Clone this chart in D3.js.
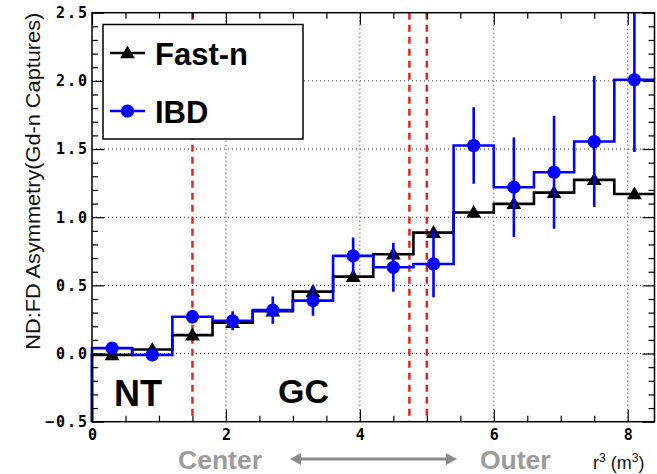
<!DOCTYPE html>
<html><head><meta charset="utf-8">
<script src="https://cdn.jsdelivr.net/npm/d3@7"></script>
<style>
html,body{margin:0;padding:0;background:#fff;}
svg{display:block;}
</style>
</head><body>
<svg id="chart" width="657" height="474"></svg>
<script>
// ---- data ----
const binEdges = [0,0.6,1.2,1.8,2.4,3.0,3.6,4.2,4.8,5.4,6.0,6.6,7.2,7.8,8.4];
const binCenters = [0.3,0.9,1.5,2.1,2.7,3.3,3.9,4.5,5.1,5.7,6.3,6.9,7.5,8.1];
const fastN    = [-0.01,0.03,0.135,0.226,0.31,0.454,0.564,0.728,0.887,1.034,1.098,1.18,1.274,1.17];
const fastNErr = [0.03,0.03,0.03,0.03,0.03,0.03,0.03,0.03,0.03,0.03,0.03,0.03,0.03,0.03];
const ibd      = [0.04,-0.01,0.27,0.24,0.319,0.388,0.716,0.633,0.657,1.526,1.22,1.33,1.555,2.008];
const ibdErr   = [0.03,0.03,0.05,0.07,0.10,0.11,0.135,0.18,0.245,0.28,0.365,0.415,0.48,0.53];
const xMajorTicks = [0,2,4,6,8];
const xTickLabels = ["0","2","4","6","8"];
const yMajorTicks = [-0.5,0,0.5,1.0,1.5,2.0,2.5];
const yTickLabels = ["\u22120.5","0.0","0.5","1.0","1.5","2.0","2.5"];
const xGrid = [2,4,6,8];
const yGrid = [0,0.5,1.0,1.5,2.0];
const regionLines = [1.5,4.74,5.0];
const legendNames = ["Fast-n","IBD"];

// ---- layout ----
const svg = d3.select("#chart");
const L = 92, R = 654.5, T = 12.7, B = 421.7;
const x = d3.scaleLinear().domain([0,8.4]).range([L, R]);
const y = d3.scaleLinear().domain([-0.5,2.5]).range([B, T]);
const BLUE = "#0000ff", RED = "#e8231f", GRAY = "#9c9c9c";

svg.append("defs").append("clipPath").attr("id","plotclip")
  .append("rect").attr("x",L-4).attr("y",T).attr("width",R-L+4).attr("height",B-T);

// grid
const g = svg.append("g");
g.selectAll(".gx").data(xGrid).enter().append("line")
  .attr("x1", d=>x(d)).attr("x2", d=>x(d)).attr("y1", T).attr("y2", B)
  .attr("stroke","#333").attr("stroke-width",1).attr("stroke-dasharray","1,3");
g.selectAll(".gy").data(yGrid).enter().append("line")
  .attr("y1", d=>y(d)).attr("y2", d=>y(d)).attr("x1", L).attr("x2", R)
  .attr("stroke","#333").attr("stroke-width",1).attr("stroke-dasharray","1,3");

// red dashed region lines
g.selectAll(".rl").data(regionLines).enter().append("line")
  .attr("x1", d=>x(d)).attr("x2", d=>x(d)).attr("y1", T).attr("y2", B)
  .attr("stroke",RED).attr("stroke-width",2.5).attr("stroke-dasharray","7,5");

// histogram step paths
function stepPts(vals){
  const pts = [[binEdges[0], -0.5]];
  vals.forEach((v,i)=>pts.push([binEdges[i], v]));
  pts.push([binEdges[binEdges.length-1], vals[vals.length-1]]);
  return pts;
}
const stepLine = d3.line().x(d=>x(d[0])).y(d=>y(d[1])).curve(d3.curveStepAfter);

const dg = svg.append("g").attr("clip-path","url(#plotclip)");
// Fast-n
dg.append("path").attr("d", stepLine(stepPts(fastN)))
  .attr("fill","none").attr("stroke","#000").attr("stroke-width",2.6);
dg.selectAll(".fe").data(binCenters).enter().append("line")
  .attr("x1", d=>x(d)).attr("x2", d=>x(d))
  .attr("y1",(d,i)=>y(fastN[i]-fastNErr[i])).attr("y2",(d,i)=>y(fastN[i]+fastNErr[i]))
  .attr("stroke","#000").attr("stroke-width",2.5);
const tri = d3.symbol().type(d3.symbolTriangle).size(95);
dg.selectAll(".fm").data(binCenters).enter().append("path")
  .attr("d", tri)
  .attr("transform",(d,i)=>`translate(${x(d)},${y(fastN[i])+1})`)
  .attr("fill","#000");

// IBD
dg.append("path").attr("d", stepLine(stepPts(ibd)))
  .attr("fill","none").attr("stroke",BLUE).attr("stroke-width",2.6);
dg.selectAll(".ie").data(binCenters).enter().append("line")
  .attr("x1", d=>x(d)).attr("x2", d=>x(d))
  .attr("y1",(d,i)=>y(ibd[i]-ibdErr[i])).attr("y2",(d,i)=>y(ibd[i]+ibdErr[i]))
  .attr("stroke",BLUE).attr("stroke-width",2.6);
dg.selectAll(".im").data(binCenters).enter().append("circle")
  .attr("cx", d=>x(d)).attr("cy",(d,i)=>y(ibd[i])).attr("r",6.6)
  .attr("fill",BLUE);

// ---- axes ----
const ax = svg.append("g");
function styleAxis(sel){
  sel.select(".domain").remove();
  sel.selectAll(".tick line").attr("stroke","#000").attr("stroke-width",1.2);
}
const xMinor = d3.range(0, 8.41, 0.5).filter(v=>xMajorTicks.indexOf(v)<0);
const yMinor = d3.range(-5, 26, 1).map(v=>v/10).filter(v=>yMajorTicks.indexOf(v)<0);

// bottom
ax.append("g").attr("transform",`translate(0,${B})`)
  .call(d3.axisBottom(x).tickValues(xMajorTicks).tickSize(-12).tickFormat((d,i)=>xTickLabels[i]).tickPadding(8))
  .call(styleAxis)
  .call(s=>s.selectAll("text").attr("font-family","DejaVu Sans Mono").attr("font-weight","bold")
    .attr("font-size",15).attr("fill","#000").attr("dy","0.35em").attr("y",13));
ax.append("g").attr("transform",`translate(0,${B})`)
  .call(d3.axisBottom(x).tickValues(xMinor).tickSize(-6).tickFormat(""))
  .call(styleAxis);
// top
ax.append("g").attr("transform",`translate(0,${T})`)
  .call(d3.axisTop(x).tickValues(xMajorTicks).tickSize(-12).tickFormat(""))
  .call(styleAxis);
ax.append("g").attr("transform",`translate(0,${T})`)
  .call(d3.axisTop(x).tickValues(xMinor).tickSize(-6).tickFormat(""))
  .call(styleAxis);
// left
ax.append("g").attr("transform",`translate(${L},0)`)
  .call(d3.axisLeft(y).tickValues(yMajorTicks).tickSize(-12).tickFormat((d,i)=>yTickLabels[i]).tickPadding(4))
  .call(styleAxis)
  .call(s=>s.selectAll("text").attr("font-family","DejaVu Sans Mono").attr("font-weight","bold")
    .attr("font-size",15).attr("letter-spacing","2px").attr("fill","#000").attr("x",-3));
ax.append("g").attr("transform",`translate(${L},0)`)
  .call(d3.axisLeft(y).tickValues(yMinor).tickSize(-6).tickFormat(""))
  .call(styleAxis);
// right
ax.append("g").attr("transform",`translate(${R},0)`)
  .call(d3.axisRight(y).tickValues(yMajorTicks).tickSize(-12).tickFormat(""))
  .call(styleAxis);
ax.append("g").attr("transform",`translate(${R},0)`)
  .call(d3.axisRight(y).tickValues(yMinor).tickSize(-6).tickFormat(""))
  .call(styleAxis);

// frame
svg.append("rect").attr("x",L).attr("y",T).attr("width",R-L).attr("height",B-T)
  .attr("fill","none").attr("stroke","#000").attr("stroke-width",1.5);

// axis titles
svg.append("text")
  .attr("transform",`translate(40,${T}) rotate(-90)`)
  .attr("text-anchor","end")
  .attr("font-family","Liberation Sans, Arial, sans-serif")
  .attr("font-size",21)
  .attr("textLength",337).attr("lengthAdjust","spacingAndGlyphs")
  .attr("fill","#111")
  .text("ND:FD Asymmetry(Gd-n Captures)");

const rt = svg.append("text").attr("x",593).attr("y",469)
  .attr("font-family","Liberation Sans, Arial, sans-serif").attr("font-size",18).attr("fill","#111");
rt.append("tspan").text("r");
rt.append("tspan").attr("dy",-7).attr("font-size",12).text("3");
rt.append("tspan").attr("dy",7).text(" (m");
rt.append("tspan").attr("dy",-7).attr("font-size",12).text("3");
rt.append("tspan").attr("dy",7).text(")");

// region labels
svg.append("text").attr("x",114).attr("y",406)
  .attr("font-family","Liberation Sans, Arial, sans-serif").attr("font-weight","bold")
  .attr("font-size",36).attr("fill","#000").text("NT");
svg.append("text").attr("x",278).attr("y",403)
  .attr("font-family","Liberation Sans, Arial, sans-serif").attr("font-weight","bold")
  .attr("font-size",34).attr("fill","#000").text("GC");

// Center <-> Outer
svg.append("text").attr("x",178).attr("y",468.5)
  .attr("font-family","Liberation Sans, Arial, sans-serif").attr("font-weight","bold")
  .attr("font-size",26.5).attr("fill",GRAY).text("Center");
svg.append("text").attr("x",480).attr("y",468.5)
  .attr("font-family","Liberation Sans, Arial, sans-serif").attr("font-weight","bold")
  .attr("font-size",26.5).attr("fill",GRAY).text("Outer");
const ay = 459, ax1 = 290, ax2 = 457;
svg.append("line").attr("x1",ax1+8).attr("x2",ax2-8).attr("y1",ay).attr("y2",ay)
  .attr("stroke","#8a8a8a").attr("stroke-width",3);
svg.append("path").attr("d",`M${ax1},${ay} L${ax1+11},${ay-6} L${ax1+11},${ay+6} Z`).attr("fill","#8a8a8a");
svg.append("path").attr("d",`M${ax2},${ay} L${ax2-11},${ay-6} L${ax2-11},${ay+6} Z`).attr("fill","#8a8a8a");

// legend
const lg = svg.append("g");
lg.append("rect").attr("x",103).attr("y",24.5).attr("width",200).attr("height",114.5)
  .attr("fill","#fff").attr("stroke","#000").attr("stroke-width",1.5);
const legY = [53, 111];
lg.append("line").attr("x1",110).attr("x2",145).attr("y1",legY[0]).attr("y2",legY[0])
  .attr("stroke","#000").attr("stroke-width",2.6);
lg.append("path").attr("d",tri).attr("transform",`translate(127.5,${legY[0]+1})`).attr("fill","#000");
lg.append("line").attr("x1",110).attr("x2",145).attr("y1",legY[1]).attr("y2",legY[1])
  .attr("stroke",BLUE).attr("stroke-width",2.6);
lg.append("circle").attr("cx",127.5).attr("cy",legY[1]).attr("r",6.6).attr("fill",BLUE);
lg.selectAll(".lt").data(legendNames).enter().append("text")
  .attr("x",155).attr("y",(d,i)=>legY[i]+11.5)
  .attr("font-family","Liberation Sans, Arial, sans-serif").attr("font-weight","bold")
  .attr("font-size",31).attr("fill","#000").text(d=>d);
</script>
</body></html>
